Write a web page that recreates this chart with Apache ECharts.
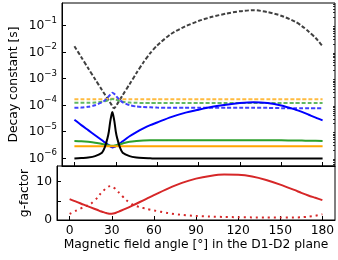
<!DOCTYPE html>
<html><head><meta charset="utf-8">
<script src="https://cdn.jsdelivr.net/npm/echarts@6/dist/echarts.min.js"></script>
<style>html,body{margin:0;padding:0;background:#fff}#c{width:338px;height:260px}</style>
</head><body><div id="c"></div>
<script>
// Magnetic field angle in degrees
const angles = [0,5,10,15,20,22,24,25,26,27,27.5,28,29,30,31,33,35,40,45,50,55,60,70,80,90,100,110,120,130,140,150,160,165,170,175,180];

// Decay constants, stored as log10(seconds)
const logTauGrayDashed   = [-1.79,-2.20,-2.62,-3.03,-3.44,-3.60,-3.76,-3.84,-3.92,-4.00,-4.05,-4.10,-4.12,-4.05,-3.97,-3.80,-3.63,-3.22,-2.80,-2.40,-2.05,-1.76,-1.33,-1.05,-0.84,-0.68,-0.56,-0.47,-0.43,-0.50,-0.64,-0.86,-1.03,-1.24,-1.48,-1.79];
const logTauOrangeDashed = [-3.79,-3.79,-3.79,-3.79,-3.79,-3.79,-3.78,-3.78,-3.77,-3.77,-3.77,-3.77,-3.77,-3.77,-3.78,-3.78,-3.79,-3.79,-3.79,-3.79,-3.79,-3.79,-3.79,-3.79,-3.79,-3.79,-3.79,-3.79,-3.79,-3.79,-3.79,-3.79,-3.79,-3.79,-3.79,-3.79];
const logTauGreenDashed  = [-3.92,-3.92,-3.92,-3.91,-3.88,-3.86,-3.83,-3.81,-3.80,-3.79,-3.78,-3.78,-3.79,-3.80,-3.82,-3.85,-3.88,-3.91,-3.92,-3.93,-3.93,-3.93,-3.93,-3.93,-3.93,-3.93,-3.93,-3.93,-3.93,-3.93,-3.93,-3.93,-3.93,-3.93,-3.93,-3.93];
const logTauBlueDashed   = [-4.11,-4.10,-4.07,-4.01,-3.90,-3.83,-3.73,-3.67,-3.61,-3.56,-3.54,-3.55,-3.59,-3.65,-3.71,-3.82,-3.90,-4.01,-4.06,-4.08,-4.09,-4.10,-4.11,-4.11,-4.11,-4.11,-4.11,-4.11,-4.11,-4.11,-4.12,-4.12,-4.12,-4.12,-4.12,-4.12];
const logTauBlue         = [-4.56,-4.76,-4.95,-5.14,-5.33,-5.41,-5.48,-5.52,-5.56,-5.59,-5.60,-5.60,-5.58,-5.55,-5.52,-5.45,-5.37,-5.18,-5.02,-4.88,-4.76,-4.66,-4.46,-4.30,-4.18,-4.07,-3.99,-3.93,-3.90,-3.93,-4.02,-4.17,-4.26,-4.37,-4.48,-4.58];
const logTauGreen        = [-5.36,-5.37,-5.39,-5.42,-5.47,-5.49,-5.51,-5.52,-5.53,-5.54,-5.54,-5.54,-5.53,-5.52,-5.51,-5.48,-5.45,-5.39,-5.36,-5.34,-5.33,-5.33,-5.33,-5.33,-5.33,-5.33,-5.33,-5.33,-5.33,-5.33,-5.33,-5.34,-5.34,-5.35,-5.35,-5.36];
const logTauOrange       = [-5.56,-5.56,-5.56,-5.56,-5.56,-5.56,-5.56,-5.56,-5.56,-5.56,-5.56,-5.56,-5.56,-5.56,-5.56,-5.56,-5.56,-5.56,-5.56,-5.56,-5.56,-5.56,-5.56,-5.56,-5.56,-5.56,-5.56,-5.56,-5.56,-5.56,-5.56,-5.56,-5.56,-5.56,-5.56,-5.56];
const logTauBlack        = [-6.02,-6.00,-5.98,-5.93,-5.80,-5.60,-5.25,-5.00,-4.62,-4.35,-4.27,-4.35,-4.62,-5.00,-5.25,-5.60,-5.80,-5.93,-5.98,-6.00,-6.01,-6.02,-6.02,-6.02,-6.02,-6.02,-6.02,-6.02,-6.02,-6.02,-6.02,-6.02,-6.02,-6.02,-6.02,-6.02];

// g-factors
const gSolid  = [5.45,4.75,4.0,3.3,2.6,2.3,2.05,1.93,1.82,1.73,1.68,1.65,1.62,1.63,1.68,1.9,2.2,2.95,3.8,4.7,5.6,6.5,8.2,9.7,10.8,11.5,11.85,11.8,11.35,10.45,9.25,7.85,7.1,6.4,5.8,5.2];
const gDotted = [1.6,2.5,3.4,4.2,5.9,6.9,7.6,8.0,8.35,8.6,8.7,8.78,8.85,8.8,8.6,8.0,7.2,5.3,4.0,3.35,2.9,2.5,1.8,1.35,1.05,0.9,0.8,0.72,0.68,0.65,0.63,0.65,0.72,0.85,1.1,1.5];

// ticks
const angleTicks = [0,30,60,90,120,150,180];
const decadeTicks = [-6,-5,-4,-3,-2,-1];
const gTicks = [0,5,10];
const gLabels = [0,10];
const minorDecadeTicks = [];
for (let e = -7; e <= -1; e++) for (let k = 2; k <= 9; k++) minorDecadeTicks.push(e + Math.log10(k));

const FONT = 'DejaVu Sans';
const FS = 12.3;
const pts = arr => angles.map((a, i) => [a, arr[i]]);
const dash = [4, 2];

function line(arr, color, type, grid, width) {
  return {
    type: 'line', xAxisIndex: grid, yAxisIndex: grid === 0 ? 0 : 2,
    data: pts(arr), showSymbol: false, smooth: 0.25, animation: false, silent: true,
    lineStyle: { color: color, width: width || 2, type: type }
  };
}

const xBase = {
  type: 'value', min: -9, max: 189,
  axisLine: { show: true, onZero: false, lineStyle: { color: '#000', width: 1 } },
  axisTick: { show: true, inside: true, length: 4, customValues: angleTicks, lineStyle: { color: '#000' } },
  splitLine: { show: false }
};

const chart = echarts.init(document.getElementById('c'), null, { renderer: 'canvas' });
chart.setOption({
  animation: false,
  textStyle: { fontFamily: FONT },
  grid: [
    { left: 57, top: 3, width: 278, height: 163, show: true, borderColor: '#000', borderWidth: 1 },
    { left: 57, top: 166, width: 278, height: 54, show: true, borderColor: '#000', borderWidth: 1 }
  ],
  xAxis: [
    Object.assign({}, xBase, { gridIndex: 0, axisLabel: { show: false } }),
    Object.assign({}, xBase, {
      gridIndex: 1,
      axisLabel: { show: true, customValues: angleTicks, color: '#000', fontSize: FS, fontFamily: FONT, margin: 5 },
      name: 'Magnetic field angle [°] in the D1-D2 plane', nameLocation: 'middle', nameGap: 19, nameMoveOverlap: false,
      nameTextStyle: { color: '#000', fontSize: FS, fontFamily: FONT }
    })
  ],
  yAxis: [
    {
      gridIndex: 0, type: 'value', min: -6.3, max: -0.16,
      axisLine: { show: true, onZero: false, lineStyle: { color: '#000', width: 1 } },
      axisTick: { show: true, inside: true, length: 4, customValues: decadeTicks, lineStyle: { color: '#000' } },
      axisLabel: {
        show: true, customValues: decadeTicks, margin: 5, padding: [0, 0, 3, 0],
        formatter: v => '{b|10}{s|\u2212' + Math.round(-v) + '}',
        rich: {
          b: { fontSize: FS, fontFamily: FONT, color: '#000', lineHeight: 16, verticalAlign: 'bottom' },
          s: { fontSize: 8.6, fontFamily: FONT, color: '#000', lineHeight: 5.5, verticalAlign: 'top' }
        }
      },
      splitLine: { show: false },
      name: 'Decay constant [s]', nameLocation: 'middle', nameGap: 42, nameMoveOverlap: false,
      nameTextStyle: { color: '#000', fontSize: FS, fontFamily: FONT }
    },
    {
      gridIndex: 0, type: 'value', min: -6.3, max: -0.16,
      axisLine: { show: false, onZero: false },
      axisTick: { show: true, inside: true, length: 2, customValues: minorDecadeTicks.filter(v => v > -6.3 && v < -0.16), lineStyle: { color: '#000', width: 0.8 } },
      axisLabel: { show: false }, splitLine: { show: false }
    },
    {
      gridIndex: 1, type: 'value', min: 0, max: 14.1,
      axisLine: { show: true, onZero: false, lineStyle: { color: '#000', width: 1 } },
      axisTick: { show: true, inside: true, length: 4, customValues: gTicks, lineStyle: { color: '#000' } },
      axisLabel: { show: true, customValues: gLabels, color: '#000', fontSize: FS, fontFamily: FONT, margin: 5 },
      splitLine: { show: false },
      name: 'g-factor', nameLocation: 'middle', nameGap: 26.5, nameMoveOverlap: false,
      nameTextStyle: { color: '#000', fontSize: FS, fontFamily: FONT }
    }
  ],
  series: [
    line(logTauGrayDashed,   '#404040', dash, 0),
    line(logTauOrangeDashed, '#ffbb40', dash, 0),
    line(logTauGreenDashed,  '#61b861', dash, 0),
    line(logTauBlueDashed,   '#4040ff', dash, 0),
    line(logTauBlue,   '#0000ff', 'solid', 0),
    line(logTauGreen,  '#2ca02c', 'solid', 0),
    line(logTauOrange, '#ffa500', 'solid', 0),
    line(logTauBlack,  '#000000', 'solid', 0),
    line(gSolid,  '#d62728', 'solid', 1),
    line(gDotted, '#d62728', [2, 4], 1)
  ]
});
</script></body></html>
